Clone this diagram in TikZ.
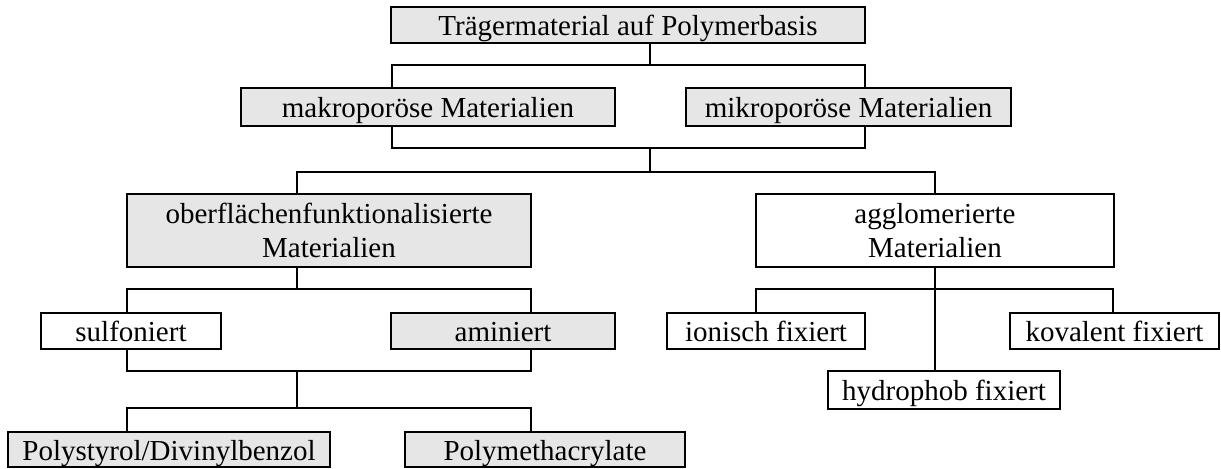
\documentclass[tikz,border=0pt]{standalone}
\usepackage{fontspec}
\setmainfont{Liberation Serif}
\definecolor{boxgrey}{RGB}{230,230,230}
\tikzset{
  box/.style={draw, inner sep=0pt, align=center, font=\fontsize{14.5}{17}\selectfont},
  onebox/.style={box, minimum height=18pt, text height=13.5pt, text depth=3pt},
  twobox/.style={box, minimum height=36.5pt},
  shaded/.style={fill=boxgrey}
}
\begin{document}
\begin{tikzpicture}[x=0.5pt, y=-0.5pt, line width=1pt]
  \useasboundingbox (0,0) rectangle (1221,468);
  % Kaesten
  \node[onebox, shaded, minimum width=237pt] (traeger) at (628,25) {Trägermaterial auf Polymerbasis};
  \node[onebox, shaded, minimum width=187pt, minimum height=19pt] (makro) at (428,107) {makroporöse Materialien};
  \node[onebox, shaded, minimum width=162.5pt, minimum height=19pt] (mikro) at (848.5,107) {mikroporöse Materialien};
  \node[twobox, shaded, minimum width=202pt] (oberfl) at (329,230.5) {oberflächenfunktionalisierte\\Materialien};
  \node[twobox, minimum width=179pt] (agglo) at (935,230.5) {agglomerierte\\Materialien};
  \node[onebox, minimum width=90pt] (sulf) at (131,331) {sulfoniert};
  \node[onebox, shaded, minimum width=112pt] (amin) at (503,331) {aminiert};
  \node[onebox, minimum width=99pt] (ion) at (766,331) {ionisch fixiert};
  \node[onebox, minimum width=104.5pt] (kov) at (1114.5,331) {kovalent fixiert};
  \node[onebox, minimum width=116pt, minimum height=19pt] (hydro) at (944,390) {hydrophob fixiert};
  \node[onebox, shaded, minimum width=161pt, minimum height=17.5pt] (psty) at (169,449.5) {Polystyrol/Divinylbenzol};
  \node[onebox, shaded, minimum width=140pt, minimum height=17.5pt] (pmeth) at (545,449.5) {Polymethacrylate};
  % Verbindungen oben
  \coordinate (obenL) at (392,65);
  \coordinate (obenM) at (650,65);
  \coordinate (obenR) at (865,65);
  \draw (traeger.south -| obenM) -- (obenM);
  \draw (makro.north -| obenL) -- (obenL) -- (obenR) -- (mikro.north -| obenR);
  \coordinate (mitteL) at (392,148);
  \coordinate (mitteM) at (650,148);
  \coordinate (mitteR) at (865,148);
  \draw (makro.south -| mitteL) -- (mitteL) -- (mitteR) -- (mikro.south -| mitteR);
  \coordinate (astL) at (297,172);
  \coordinate (astM) at (650,172);
  \draw (mitteM) -- (astM);
  \draw (oberfl.north -| astL) -- (astL) -- (agglo.north |- astL) -- (agglo.north);
  % linker Zweig
  \coordinate (oL) at (127,289);
  \coordinate (oM) at (297,289);
  \coordinate (oR) at (531,289);
  \draw (oberfl.south -| oM) -- (oM);
  \draw (sulf.north -| oL) -- (oL) -- (oR) -- (amin.north -| oR);
  \coordinate (uL) at (127,371);
  \coordinate (uM) at (297,371);
  \coordinate (uR) at (531,371);
  \draw (sulf.south -| uL) -- (uL) -- (uR) -- (amin.south -| uR);
  \coordinate (pL) at (127,408);
  \coordinate (pM) at (297,408);
  \coordinate (pR) at (531,408);
  \draw (uM) -- (pM);
  \draw (psty.north -| pL) -- (pL) -- (pR) -- (pmeth.north -| pR);
  % rechter Zweig
  \coordinate (aL) at (756,289);
  \coordinate (aR) at (1113,289);
  \draw (agglo.south) -- (hydro.north -| agglo.south);
  \draw (ion.north -| aL) -- (aL) -- (aR) -- (kov.north -| aR);
\end{tikzpicture}
\end{document}
